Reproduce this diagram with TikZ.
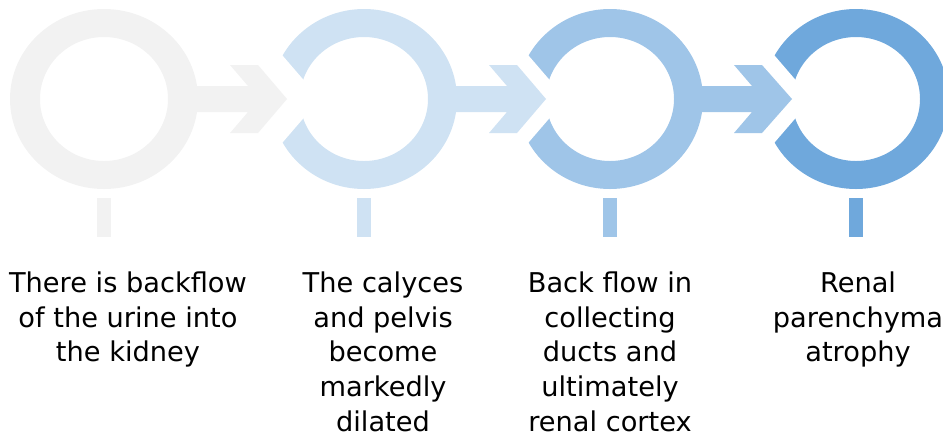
\documentclass[tikz,border=0pt]{standalone}
\usepackage{fontspec}
\setmainfont{DejaVu Sans}
\definecolor{stageA}{HTML}{F2F2F2}
\definecolor{stageB}{HTML}{CFE2F3}
\definecolor{stageC}{HTML}{9FC5E8}
\definecolor{stageD}{HTML}{6FA8DC}

\begin{document}
\begin{tikzpicture}[
    x=0.02cm, y=-0.02cm,
    ring/.style={even odd rule},
    gapcut/.style={fill=white},
    stem/.style={line width=0.28cm},
    stagetext/.style={anchor=north, inner sep=0pt, align=center, font=\fontsize{15.5}{19.9}\selectfont}
]
\useasboundingbox (0,0) rectangle (943,437);
\clip (0,0) rectangle (943,437);

% ring centres
\coordinate (ringA) at (104,99);
\coordinate (ringB) at (364,99);
\coordinate (ringC) at (610,99);
\coordinate (ringD) at (856,99);

% rings
\fill[ring, stageA] (ringA) ellipse [x radius=94, y radius=90] (ringA) ellipse [x radius=64, y radius=62];
\fill[ring, stageB] (ringB) ellipse [x radius=93, y radius=90] (ringB) ellipse [x radius=64, y radius=62];
\fill[ring, stageC] (ringC) ellipse [x radius=93, y radius=90] (ringC) ellipse [x radius=64, y radius=62];
\fill[ring, stageD] (ringD) ellipse [x radius=93, y radius=90] (ringD) ellipse [x radius=64, y radius=62];

% openings where the arrows come in
\fill[gapcut] (320,99) -- (264,34) -- (249,34) -- (249,164) -- (264,164) -- cycle;
\fill[gapcut] (566,99) -- (510,34) -- (495,34) -- (495,164) -- (510,164) -- cycle;
\fill[gapcut] (812,99) -- (756,34) -- (741,34) -- (741,164) -- (756,164) -- cycle;

% arrows
\fill[stageA] (184,86) -- (248,86) -- (230,65) -- (258,65) -- (287,99) -- (258,133) -- (230,133) -- (248,112) -- (184,112) -- cycle;
\fill[stageB] (444,86) -- (507,86) -- (489,65) -- (517,65) -- (546,99) -- (517,133) -- (489,133) -- (507,112) -- (444,112) -- cycle;
\fill[stageC] (690,86) -- (752,86) -- (734,65) -- (762,65) -- (792,99) -- (762,133) -- (734,133) -- (752,112) -- (690,112) -- cycle;

% stems
\draw[stem, stageA] (104,198) -- (104,237);
\draw[stem, stageB] (364,198) -- (364,237);
\draw[stem, stageC] (610,198) -- (610,237);
\draw[stem, stageD] (856,198) -- (856,237);

% texts
\node[stagetext] (textA) at (128,271) {There is backflow\\of the urine into\\the kidney};
\node[stagetext] (textB) at (383,271) {The calyces\\and pelvis\\become\\markedly\\dilated};
\node[stagetext] (textC) at (610,271) {Back flow in\\collecting\\ducts and\\ultimately\\renal cortex};
\node[stagetext] (textD) at (858,271) {Renal\\parenchyma\\atrophy};
\end{tikzpicture}
\end{document}
